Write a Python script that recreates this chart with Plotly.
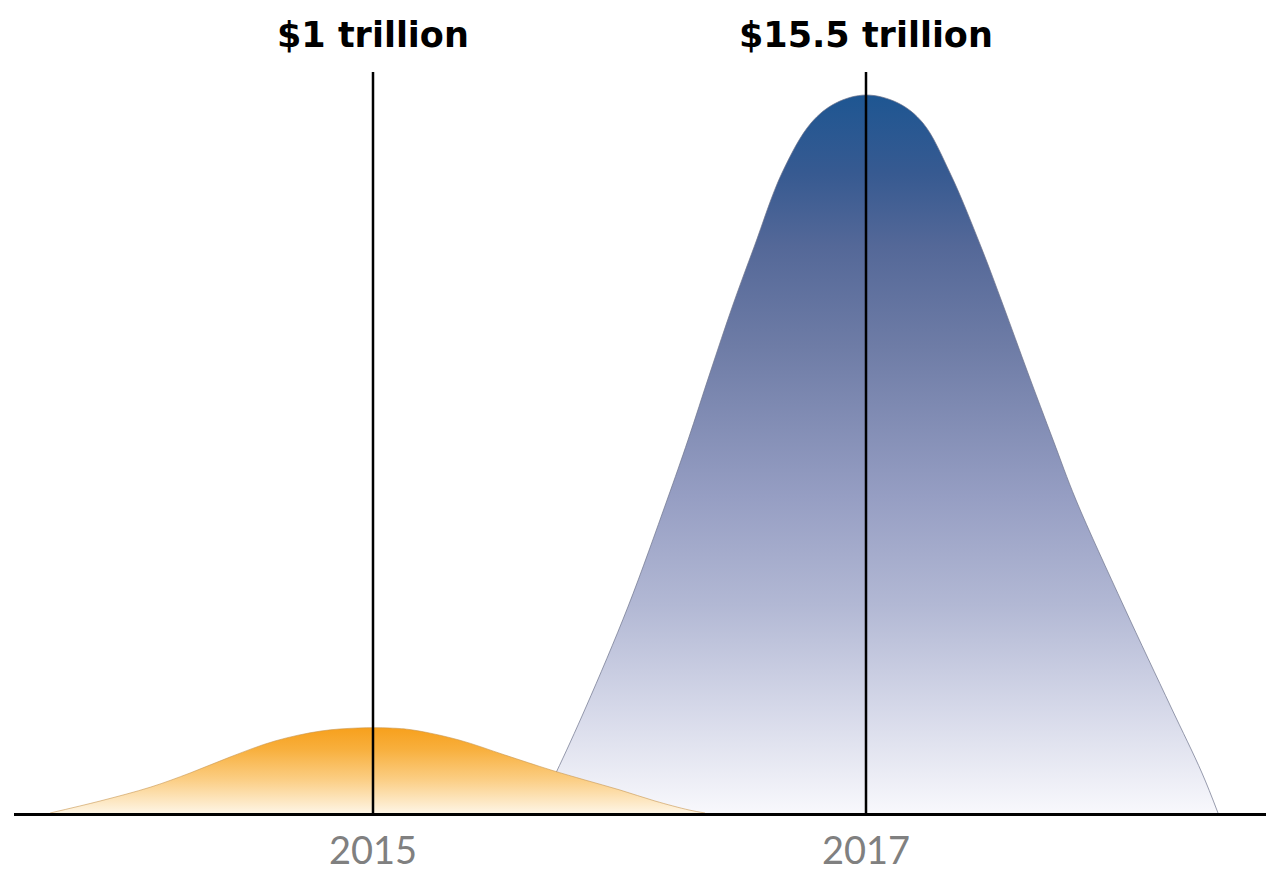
import plotly.graph_objects as go

# ---- data ----
tick_years = [2015, 2017]
tick_labels = ["2015", "2017"]
marker_years = [2015, 2017]
marker_labels = ["$1 trillion", "$15.5 trillion"]
marker_top = 741  # top of vertical reference lines (value units)

# 2015 distribution (orange)
x_2015 = [2013.690, 2013.893, 2014.099, 2014.258, 2014.420, 2014.602, 2014.789,
          2014.939, 2015.069, 2015.162, 2015.349, 2015.535, 2015.722, 2015.860,
          2016.002, 2016.144, 2016.282, 2016.347]
y_2015 = [0, 12, 26, 40, 56, 72, 82, 85, 85, 83, 73, 58, 43, 33, 23, 12, 3, 0]

# 2017 distribution (blue)
x_2017 = [2015.661, 2015.742, 2015.864, 2016.034, 2016.193, 2016.278, 2016.367,
          2016.460, 2016.546, 2016.659, 2016.777, 2016.878, 2017.000, 2017.130,
          2017.231, 2017.341, 2017.467, 2017.556, 2017.657, 2017.759, 2017.852,
          2018.047, 2018.237, 2018.363, 2018.428]
y_2017 = [0, 40, 106, 206, 313, 373, 440, 508, 566, 640, 690, 710, 718, 710,
          690, 640, 566, 508, 440, 373, 313, 206, 106, 40, 0]

fig = go.Figure()

fig.add_trace(go.Scatter(
    x=x_2017, y=y_2017, mode="lines",
    line=dict(color="rgba(110,115,140,0.7)", width=1, shape="spline", smoothing=1.0),
    fill="tozeroy",
    fillgradient=dict(type="vertical", colorscale=[
        [0.0, "rgb(248,248,252)"],
        [0.15, "rgb(212,215,232)"],
        [0.29, "rgb(178,184,212)"],
        [0.44, "rgb(150,158,195)"],
        [0.65, "rgb(110,124,166)"],
        [0.79, "rgb(84,104,152)"],
        [0.89, "rgb(55,90,145)"],
        [1.0, "rgb(30,86,146)"]]),
    hoverinfo="skip", showlegend=False))

fig.add_trace(go.Scatter(
    x=x_2015, y=y_2015, mode="lines",
    line=dict(color="rgba(200,150,80,0.6)", width=1, shape="spline", smoothing=1.0),
    fill="tozeroy",
    fillgradient=dict(type="vertical", colorscale=[
        [0.0, "rgb(254,245,228)"],
        [0.4, "rgb(251,205,130)"],
        [0.75, "rgb(248,175,60)"],
        [1.0, "rgb(247,160,28)"]]),
    hoverinfo="skip", showlegend=False))

for yr, lab in zip(marker_years, marker_labels):
    fig.add_trace(go.Scatter(x=[yr, yr], y=[0, marker_top], mode="lines",
                             line=dict(color="black", width=2.5),
                             hoverinfo="skip", showlegend=False))
    fig.add_annotation(x=yr, y=778, xref="x", yref="y", text=lab, showarrow=False,
                       font=dict(family="DejaVu Sans", size=35, color="black", weight="bold"),
                       xanchor="center", yanchor="middle")

fig.update_layout(
    width=1266, height=872,
    margin=dict(l=14, r=0, t=0, b=59),
    paper_bgcolor="white", plot_bgcolor="white",
    xaxis=dict(range=[2013.5436, 2018.6227], tickvals=tick_years, ticktext=tick_labels,
               showgrid=False, zeroline=False, showline=True, linecolor="black", linewidth=3,
               ticks="outside", ticklen=2, tickcolor="rgba(0,0,0,0)", automargin=False,
               tickfont=dict(family="Lato", size=38, color="rgb(128,128,128)")),
    yaxis=dict(range=[0, 813], visible=False, showgrid=False, zeroline=False, automargin=False),
)

fig.write_html("out.html")
